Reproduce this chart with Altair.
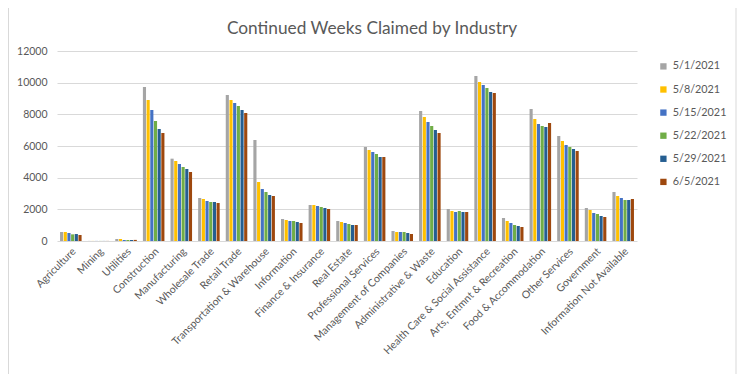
import altair as alt
import pandas as pd

industries = [
    "Agriculture", "Mining", "Utilities", "Construction", "Manufacturing",
    "Wholesale Trade", "Retail Trade", "Transportation & Warehouse", "Information",
    "Finance & Insurance", "Real Estate", "Professional Services",
    "Management of Companies", "Administrative & Waste", "Education",
    "Health Care & Social Assistance", "Arts, Entmnt & Recreation",
    "Food & Accommodation", "Other Services", "Government", "Information Not Available",
]
dates = ["5/1/2021", "5/8/2021", "5/15/2021", "5/22/2021", "5/29/2021", "6/5/2021"]
colors = ["#A5A5A5", "#FFC000", "#4472C4", "#70AD47", "#255E91", "#9E480E"]

w_0501 = [570, 5, 126, 9726, 5200, 2716, 9221, 6379, 1389, 2274, 1263, 5937, 632, 8211, 2021, 10421, 1453, 8337, 6632, 2084, 3095]
w_0508 = [570, 5, 126, 8905, 5053, 2653, 8905, 3726, 1326, 2274, 1200, 5747, 568, 7832, 1895, 10042, 1263, 7705, 6316, 1958, 2842]
w_0515 = [505, 5, 63, 8274, 4863, 2526, 8716, 3284, 1263, 2211, 1137, 5621, 568, 7516, 1832, 9853, 1137, 7389, 6063, 1768, 2716]
w_0522 = [420, 5, 63, 7579, 4674, 2463, 8526, 3095, 1263, 2147, 1074, 5495, 568, 7263, 1895, 9663, 1011, 7263, 5937, 1705, 2589]
w_0529 = [440, 5, 63, 7074, 4547, 2463, 8274, 2905, 1200, 2084, 1011, 5305, 505, 7011, 1832, 9411, 947, 7200, 5811, 1579, 2589]
w_0605 = [380, 5, 70, 6821, 4358, 2400, 8084, 2842, 1137, 2021, 1011, 5305, 442, 6821, 1832, 9347, 884, 7453, 5684, 1516, 2653]
y_ticks = [0, 2000, 4000, 6000, 8000, 10000, 12000]

series = [w_0501, w_0508, w_0515, w_0522, w_0529, w_0605]
rows = []
for d, vals in zip(dates, series):
    for ind, v in zip(industries, vals):
        rows.append({"Industry": ind, "Week": d, "Claims": v})
df = pd.DataFrame(rows)

text_color = "#595959"
grid_color = "#D9D9D9"

bars = alt.Chart(df).mark_bar().encode(
    x=alt.X(
        "Industry:N", sort=industries, title=None,
        scale=alt.Scale(paddingInner=0.22, paddingOuter=0.11),
        axis=alt.Axis(labelAngle=-45, labelFontSize=10.5, labelColor=text_color,
                      ticks=False, domain=False, labelPadding=5, labelLimit=0,
                      labelAlign="right", labelBaseline="top"),
    ),
    xOffset=alt.XOffset("Week:N", sort=dates, scale=alt.Scale(paddingInner=0.15)),
    y=alt.Y(
        "Claims:Q", title=None, scale=alt.Scale(domain=[0, 12000], nice=False),
        axis=alt.Axis(values=y_ticks, domain=False, ticks=False, labelPadding=10,
                      labelFontSize=10.5, labelColor=text_color, gridColor=grid_color,
                      gridWidth=1, format="d"),
    ),
    color=alt.Color(
        "Week:N", sort=dates, scale=alt.Scale(domain=dates, range=colors),
        legend=alt.Legend(title=None, orient="none", legendX=601, legendY=10,
                          symbolType="square", symbolSize=40, symbolStrokeWidth=0,
                          labelFontSize=10.8, labelColor=text_color, rowPadding=11.1,
                          labelOffset=4),
    ),
)

frame = alt.Chart(alt.Data(values=[{}])).mark_rect(
    fillOpacity=0, stroke=grid_color, strokeWidth=1
).encode(
    x=alt.value(-48.5), x2=alt.value(679), y=alt.value(-43.5), y2=alt.value(323.5)
)

chart = alt.layer(frame, bars).properties(
    width=580, height=190,
    autosize=alt.AutoSizeParams(type="none"),
    padding={"left": 49, "top": 43, "right": 101, "bottom": 133},
    title=alt.TitleParams("Continued Weeks Claimed by Industry", fontSize=17.3,
                          font="Lato", color=text_color, fontWeight="normal",
                          anchor="middle", frame="group", dx=25, offset=-30),
).configure(font="Lato", background="white").configure_view(stroke=None)

chart.save("out.html", embed_options={"renderer": "svg", "actions": False})
